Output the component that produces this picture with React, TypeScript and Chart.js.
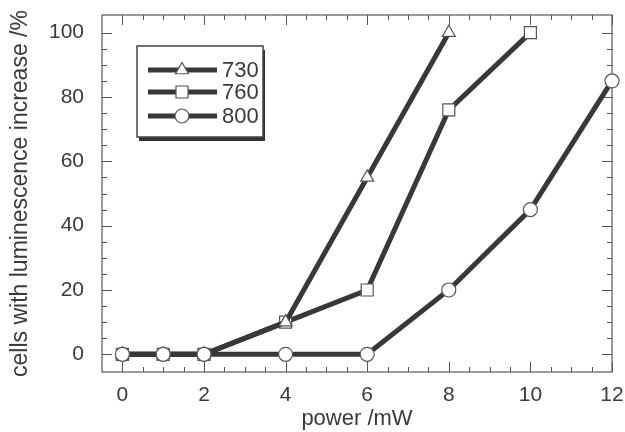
import React, { useEffect, useRef } from 'react';
import { Chart, registerables } from 'chart.js';

Chart.register(...registerables);

// ---- data ----
const seriesLabels = ['730', '760', '800'];
const power730 = [0, 1, 2, 4, 6, 8];
const cells730 = [0, 0, 0, 10, 55, 100];
const power760 = [0, 1, 2, 4, 6, 8, 10];
const cells760 = [0, 0, 0, 10, 20, 76, 100];
const power800 = [0, 1, 2, 4, 6, 8, 10, 12];
const cells800 = [0, 0, 0, 0, 0, 20, 45, 85];
const xTickValues = [0, 2, 4, 6, 8, 10, 12];
const yTickValues = [0, 20, 40, 60, 80, 100];
const xTitle = 'power /mW';
const yTitle = 'cells with luminescence increase /%';

const FONT = "'Liberation Sans', Arial, Helvetica, sans-serif";
const LINE = '#383838';
const MARK = '#555555';
const TEXT = '#3a3a3a';
const FRAME = '#555555';

const pointStyles = ['triangle', 'rect', 'circle'];
const pointRadii = [7.5, 8.5, 7];

function toPoints(xs: number[], ys: number[]) {
  return xs.map((x, i) => ({ x, y: ys[i] }));
}

function drawMarker(ctx: CanvasRenderingContext2D, style: string, x: number, y: number, r: number) {
  ctx.beginPath();
  if (style === 'circle') {
    ctx.arc(x, y, r, 0, Math.PI * 2);
  } else if (style === 'rect') {
    const s = Math.SQRT1_2 * r;
    ctx.rect(x - s, y - s, 2 * s, 2 * s);
  } else {
    let rad = 0;
    const t = (2 * Math.PI) / 3;
    ctx.moveTo(x + Math.sin(rad) * r, y - Math.cos(rad) * r);
    rad += t;
    ctx.lineTo(x + Math.sin(rad) * r, y - Math.cos(rad) * r);
    rad += t;
    ctx.lineTo(x + Math.sin(rad) * r, y - Math.cos(rad) * r);
    ctx.closePath();
  }
  ctx.fillStyle = '#ffffff';
  ctx.fill();
  ctx.lineWidth = 1.2;
  ctx.strokeStyle = MARK;
  ctx.stroke();
}

const framePlugin = {
  id: 'frameTicks',
  beforeDatasetsDraw(chart: any) {
    const ctx: CanvasRenderingContext2D = chart.ctx;
    const { left, right, top, bottom } = chart.chartArea;
    const sx = chart.scales.x;
    const sy = chart.scales.y;
    ctx.save();
    ctx.strokeStyle = FRAME;
    ctx.lineWidth = 1.2;
    ctx.strokeRect(left, top, right - left, bottom - top);
    ctx.lineWidth = 1;
    // x ticks (inward, top and bottom)
    for (let i = 0; i <= 24; i++) {
      const v = i * 0.5;
      const px = Math.round(sx.getPixelForValue(v)) + 0.5;
      const major = i % 4 === 0;
      const len = major ? 10 : 5;
      ctx.beginPath();
      ctx.moveTo(px, bottom);
      ctx.lineTo(px, bottom - len);
      ctx.moveTo(px, top);
      ctx.lineTo(px, top + len);
      ctx.stroke();
    }
    // y ticks (inward, left and right)
    for (let i = 0; i <= 20; i++) {
      const v = i * 5;
      const py = Math.round(sy.getPixelForValue(v)) + 0.5;
      const major = i % 4 === 0;
      const len = major ? 10 : 5;
      ctx.beginPath();
      ctx.moveTo(left, py);
      ctx.lineTo(left + len, py);
      ctx.moveTo(right, py);
      ctx.lineTo(right - len, py);
      ctx.stroke();
    }
    ctx.restore();
  },
  afterDatasetsDraw(chart: any) {
    const ctx: CanvasRenderingContext2D = chart.ctx;
    const { left, top } = chart.chartArea;
    // legend box
    const bx = left + 35;
    const by = top + 31;
    const bw = 126;
    const bh = 91;
    ctx.save();
    ctx.fillStyle = '#333333';
    ctx.fillRect(bx + 2, by + 4, bw, bh);
    ctx.fillStyle = '#ffffff';
    ctx.fillRect(bx, by, bw, bh);
    ctx.strokeStyle = '#444444';
    ctx.lineWidth = 1.5;
    ctx.strokeRect(bx, by, bw, bh);
    const rows = [by + 24, by + 46, by + 70];
    chart.data.datasets.forEach((ds: any, i: number) => {
      const y = rows[i];
      ctx.beginPath();
      ctx.moveTo(bx + 11, y);
      ctx.lineTo(bx + 80, y);
      ctx.strokeStyle = LINE;
      ctx.lineWidth = 5;
      ctx.stroke();
      drawMarker(ctx, ds.pointStyle, bx + 45, y, ds.pointRadius);
      ctx.fillStyle = TEXT;
      ctx.font = `22px ${FONT}`;
      ctx.textAlign = 'left';
      ctx.textBaseline = 'middle';
      ctx.fillText(ds.label, bx + 85, y + 1);
    });
    ctx.restore();
  },
};

export default function App() {
  const canvasRef = useRef<HTMLCanvasElement | null>(null);

  useEffect(() => {
    document.body.style.margin = '0';
    const canvas = canvasRef.current;
    if (!canvas) return;
    const seriesX = [power730, power760, power800];
    const seriesY = [cells730, cells760, cells800];
    const orders = [2, 3, 1];
    const chart = new Chart(canvas, {
      type: 'line',
      data: {
        datasets: seriesLabels.map((label, i) => ({
          label,
          data: toPoints(seriesX[i], seriesY[i]),
          borderColor: LINE,
          borderWidth: 5,
          pointStyle: pointStyles[i] as any,
          pointRadius: pointRadii[i],
          pointBackgroundColor: '#ffffff',
          pointBorderColor: MARK,
          pointBorderWidth: 1.2,
          tension: 0,
          fill: false,
          clip: false as any,
          order: orders[i],
        })),
      },
      options: {
        responsive: false,
        animation: false,
        events: [],
        layout: { padding: { top: 15, right: 13, left: 0, bottom: 0 } },
        plugins: {
          legend: { display: false },
          tooltip: { enabled: false },
        },
        scales: {
          x: {
            type: 'linear',
            min: -0.5,
            max: 12,
            grid: { display: false, drawTicks: false },
            border: { display: false },
            title: {
              display: true,
              text: xTitle,
              color: TEXT,
              font: { family: FONT, size: 22 },
              padding: { top: 0, bottom: 0 },
            },
            afterBuildTicks: (scale: any) => {
              scale.ticks = xTickValues.map((v) => ({ value: v }));
            },
            afterFit: (scale: any) => {
              scale.height = 60;
              scale.paddingLeft = 0;
              scale.paddingRight = 0;
            },
            ticks: {
              padding: 11,
              color: TEXT,
              font: { family: FONT, size: 21 },
              maxRotation: 0,
              autoSkip: false,
            },
          },
          y: {
            type: 'linear',
            min: -5.5,
            max: 105.5,
            grid: { display: false, drawTicks: false },
            border: { display: false },
            title: {
              display: true,
              text: yTitle,
              color: TEXT,
              font: { family: FONT, size: 23 },
              padding: { top: 7, bottom: 0 },
            },
            afterBuildTicks: (scale: any) => {
              scale.ticks = yTickValues.map((v) => ({ value: v }));
            },
            afterFit: (scale: any) => {
              scale.width = 102;
              scale.paddingTop = 0;
              scale.paddingBottom = 0;
            },
            ticks: {
              padding: 18,
              color: TEXT,
              font: { family: FONT, size: 21 },
              autoSkip: false,
            },
          },
        },
      },
      plugins: [framePlugin],
    });
    return () => chart.destroy();
  }, []);

  return (
    <div style={{ position: 'absolute', left: 0, top: 0, width: 625, height: 432, background: '#ffffff' }}>
      <canvas ref={canvasRef} width={625} height={432} style={{ display: 'block' }} />
    </div>
  );
}
